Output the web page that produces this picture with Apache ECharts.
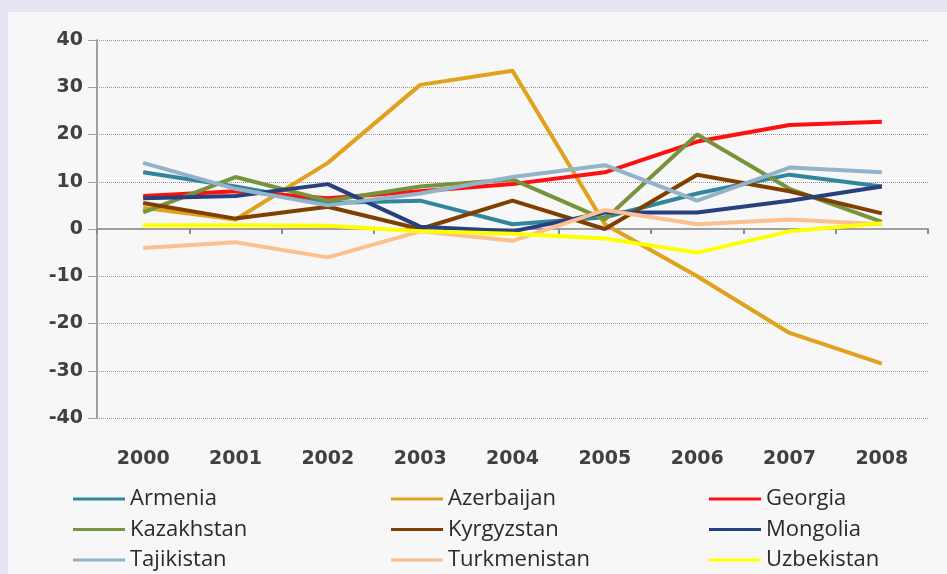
<!DOCTYPE html>
<html lang="en">

<head>
  <meta charset="UTF-8">
  <title>line</title>
  <script src="https://cdn.jsdelivr.net/npm/echarts@6/dist/echarts.min.js"></script>
  <style>
    body { margin: 0; }
    #main { width: 947px; height: 574px; }
  </style>
</head>

<body>
  <div id="main"></div>

  <script>
    var years = ['2000', '2001', '2002', '2003', '2004', '2005', '2006', '2007', '2008']
    var yTicks = [-40, 40, 10] // min, max, step

    var armenia = [12, 9, 5.5, 6, 1, 2.5, 7.5, 11.5, 9]
    var azerbaijan = [4.5, 2, 14, 30.5, 33.5, 1, -10, -22, -28.5]
    var georgia = [7, 8, 6.5, 8, 9.5, 12, 18.5, 22, 22.7]
    var kazakhstan = [3.5, 11, 6, 9, 10.5, 2, 20, 8.5, 1.5]
    var kyrgyzstan = [5.5, 2.2, 4.7, 0, 6, 0, 11.5, 8, 3.3]
    var mongolia = [6.5, 7, 9.5, 0.5, -0.5, 3.5, 3.5, 6, 9]
    var tajikistan = [14, 8.5, 5, 7.5, 11, 13.5, 6, 13, 12]
    var turkmenistan = [-4, -2.8, -6, -0.5, -2.5, 4, 1, 2, 1]
    var uzbekistan = [0.8, 0.8, 0.7, -0.5, -1, -2, -5, -0.5, 1.2]

    var names = ['Armenia', 'Azerbaijan', 'Georgia', 'Kazakhstan', 'Kyrgyzstan', 'Mongolia', 'Tajikistan', 'Turkmenistan', 'Uzbekistan']
    var values = [armenia, azerbaijan, georgia, kazakhstan, kyrgyzstan, mongolia, tajikistan, turkmenistan, uzbekistan]
    var colors = ['#31859c', '#e0a21c', '#ff1010', '#77933c', '#7f3f00', '#27407f', '#93b3c8', '#fac090', '#ffff00']

    var mCharts = echarts.init(document.getElementById('main'))

    var labelFont = { fontFamily: 'DejaVu Sans', fontSize: 19, fontWeight: 'bold', color: '#404040' }

    // 图例按列排
    function legendCol(x, list) {
      return {
        orient: 'vertical',
        left: x,
        top: 488,
        data: list,
        icon: 'rect',
        itemWidth: 52,
        itemHeight: 3,
        itemGap: 8.5,
        padding: 0,
        textStyle: { fontFamily: 'Open Sans', fontSize: 22, color: '#2a2a2a', padding: [0, 0, 0, 0] }
      }
    }

    var option = {
      animation: false,
      backgroundColor: '#e5e5f3',
      color: colors,
      graphic: [
        { type: 'rect', left: 8, top: 12, shape: { width: 939, height: 562 }, style: { fill: '#f7f7f7' }, z: -10 }
      ],
      grid: { left: 97, right: 19, top: 40, bottom: 156 },
      legend: [
        legendCol(73, [names[0], names[3], names[6]]),
        legendCol(391, [names[1], names[4], names[7]]),
        legendCol(709, [names[2], names[5], names[8]])
      ],
      xAxis: [
        {
          type: 'category',
          data: years,
          axisLine: { show: false, onZero: false },
          axisTick: { show: false },
          axisLabel: Object.assign({ margin: 32 }, labelFont)
        },
        {
          type: 'category',
          data: years,
          position: 'bottom',
          axisLine: { onZero: true, lineStyle: { color: '#a0a0a0', width: 2 } },
          axisTick: { show: true, length: 5, inside: false, lineStyle: { color: '#8a8a8a', width: 2 } },
          axisLabel: { show: false }
        }
      ],
      yAxis: {
        type: 'value',
        min: yTicks[0],
        max: yTicks[1],
        interval: yTicks[2],
        axisLine: { show: true, lineStyle: { color: '#a0a0a0', width: 2 } },
        axisTick: { show: true, length: 9, lineStyle: { color: '#a0a0a0', width: 1 } },
        axisLabel: Object.assign({ margin: 14 }, labelFont),
        splitLine: { show: true, lineStyle: { type: 'dotted', color: '#999', width: 1 } }
      },
      series: names.map(function (n, i) {
        return {
          name: n,
          type: 'line',
          data: values[i],
          symbol: 'none',
          lineStyle: { width: 4, color: colors[i] },
          itemStyle: { color: colors[i] }
        }
      })
    }

    mCharts.setOption(option)
  </script>
</body>

</html>
